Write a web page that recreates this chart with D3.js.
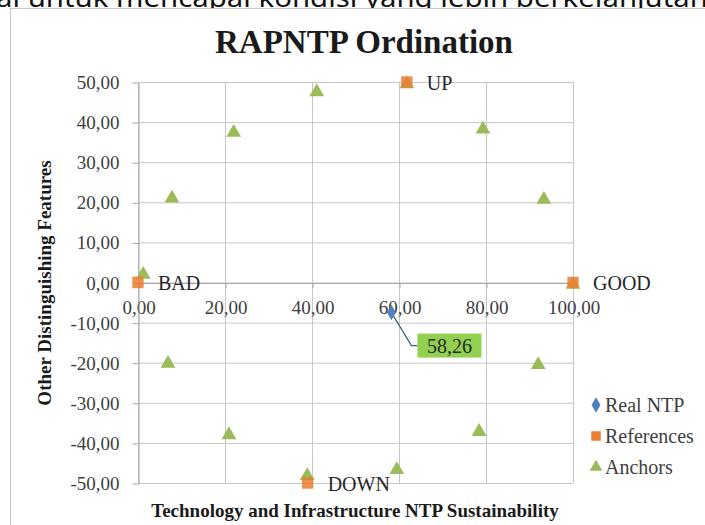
<!DOCTYPE html>
<html>
	<head>
		<title>RAPNTP Ordination</title>
		<meta charset="utf-8">
	</head>
	<body>
		<svg id="chart" width="705" height="525"></svg>
	</body>

	<script src="https://d3js.org/d3.v7.min.js"></script>
	<script>
		// chart data
		const xTicks = [0, 20, 40, 60, 80, 100];
		const yTicks = [-50, -40, -30, -20, -10, 0, 10, 20, 30, 40, 50];

		const realNTP = [{x: 58.26, y: -7.5}];
		const realLabel = "58,26";

		const references = [
			{name: "BAD", x: 0, y: 0},
			{name: "UP", x: 61.8, y: 50},
			{name: "GOOD", x: 100, y: 0},
			{name: "DOWN", x: 39, y: -50}
		];

		const anchorsX = [1.2, 7.8, 22, 41.1, 79.3, 93.3, 100, 92, 78.4, 59.5, 38.9, 20.9, 6.9, 61.8];
		const anchorsY = [2, 21, 37.4, 47.5, 38.2, 20.7, -0.5, -20.5, -37.2, -46.7, -48.2, -38, -20.2, 49.5];

		const legendNames = ["Real NTP", "References", "Anchors"];

		// colours
		const blue = "#4f81bd", orange = "#ed7d31", green = "#9bbb59";
		const serif = "'Liberation Serif', 'Times New Roman', serif";

		const svg = d3.select("#chart");

		// cut-off line of document text above the chart
		svg.append("text")
			.attr("x", -4)
			.attr("y", 7)
			.attr("textLength", 712)
			.attr("lengthAdjust", "spacingAndGlyphs")
			.style("font-family", "'Noto Sans', sans-serif")
			.style("font-size", "26px")
			.attr("fill", "#111")
			.text("ai untuk mencapai kondisi yang lebih berkelanjutan");

		// chart frame
		svg.append("rect")
			.attr("x", 10.5)
			.attr("y", 8.5)
			.attr("width", 710)
			.attr("height", 530)
			.attr("fill", "#fff")
			.attr("stroke", "#c8c8c8");

		const x = d3.scaleLinear().domain([0, 100]).range([138, 573]);
		const y = d3.scaleLinear().domain([-50, 50]).range([483, 82]);

		const loc = d3.formatLocale({decimal: ",", thousands: ".", grouping: [3], currency: ["", ""], minus: "-"});
		const fmt = loc.format(".2f");

		// gridlines
		svg.append("g")
			.selectAll("line")
			.data(xTicks)
			.enter().append("line")
				.attr("x1", d => x(d) + 0.5)
				.attr("x2", d => x(d) + 0.5)
				.attr("y1", y(50))
				.attr("y2", y(-50))
				.attr("stroke", "#c6c6c6");

		svg.append("g")
			.selectAll("line")
			.data(yTicks)
			.enter().append("line")
				.attr("x1", x(0))
				.attr("x2", x(100))
				.attr("y1", d => y(d) + 0.5)
				.attr("y2", d => y(d) + 0.5)
				.attr("stroke", "#c6c6c6");

		// axes
		svg.append("g")
			.attr("class", "axis")
			.attr("transform", `translate(0.5, ${y(0) + 0.5})`)
			.call(d3.axisBottom(x).tickValues(xTicks).tickFormat(fmt).tickSize(5).tickSizeOuter(0).tickPadding(13));

		svg.append("g")
			.attr("class", "axis")
			.attr("transform", `translate(${x(0) + 0.5}, 0.5)`)
			.call(d3.axisLeft(y).tickValues(yTicks).tickFormat(fmt).tickSize(6).tickSizeOuter(0).tickPadding(13));

		svg.selectAll(".axis").attr("font-family", serif);
		svg.selectAll(".axis .domain, .axis line").attr("stroke", "#a6a6a6");
		svg.selectAll(".axis text")
			.style("font-family", serif)
			.style("font-size", "19px")
			.attr("fill", "#404040");

		// title
		svg.append("text")
			.attr("x", 364)
			.attr("y", 53)
			.attr("text-anchor", "middle")
			.style("font-family", serif)
			.style("font-weight", "bold")
			.style("font-size", "33px")
			.attr("fill", "#1a1a1a")
			.text("RAPNTP Ordination");

		// axis titles
		svg.append("text")
			.attr("x", 355)
			.attr("y", 517)
			.attr("text-anchor", "middle")
			.style("font-family", serif)
			.style("font-weight", "bold")
			.style("font-size", "19px")
			.attr("fill", "#1a1a1a")
			.text("Technology and Infrastructure NTP Sustainability");

		svg.append("text")
			.attr("transform", "translate(51, 283) rotate(-90)")
			.attr("text-anchor", "middle")
			.style("font-family", serif)
			.style("font-weight", "bold")
			.style("font-size", "19px")
			.attr("fill", "#1a1a1a")
			.text("Other Distinguishing Features");

		const tri = d3.symbol().type(d3.symbolTriangle).size(95);
		const sq = d3.symbol().type(d3.symbolSquare).size(130);
		const dia = d3.symbol().type(d3.symbolDiamond).size(70);

		// anchors
		svg.append("g")
			.selectAll("path")
			.data(anchorsX.map((d, i) => ({x: d, y: anchorsY[i]})))
			.enter().append("path")
				.attr("d", tri)
				.attr("transform", d => `translate(${x(d.x)}, ${y(d.y)})`)
				.attr("fill", green);

		// references
		const ref = svg.append("g")
			.selectAll("g")
			.data(references)
			.enter().append("g")
				.attr("transform", d => `translate(${x(d.x)}, ${y(d.y)})`);

		ref.append("path")
			.attr("d", sq)
			.attr("fill", orange)
			.attr("fill-opacity", 0.85);

		ref.append("text")
			.attr("x", 20)
			.attr("dy", "0.38em")
			.style("font-family", serif)
			.style("font-size", "20px")
			.attr("fill", "#262626")
			.text(d => d.name);

		// real NTP point with callout
		const real = svg.append("g")
			.selectAll("g")
			.data(realNTP)
			.enter().append("g")
				.attr("transform", d => `translate(${x(d.x)}, ${y(d.y)})`);

		real.append("path")
			.attr("d", "M0,0L20,33L26,33")
			.attr("fill", "none")
			.attr("stroke", "#3b5a7a")
			.attr("stroke-width", 1.2);

		real.append("path")
			.attr("d", dia)
			.attr("fill", blue);

		real.append("rect")
			.attr("x", 26)
			.attr("y", 21)
			.attr("width", 64)
			.attr("height", 24)
			.attr("fill", "#92d050");

		real.append("text")
			.attr("x", 58)
			.attr("y", 33)
			.attr("dy", "0.36em")
			.attr("text-anchor", "middle")
			.style("font-family", serif)
			.style("font-size", "20px")
			.attr("fill", "#262626")
			.text(realLabel);

		// legend
		const legendSymbols = [dia, d3.symbol().type(d3.symbolSquare).size(90), d3.symbol().type(d3.symbolTriangle).size(70)];
		const legendColors = [blue, orange, green];

		const legend = svg.append("g")
			.selectAll("g")
			.data(legendNames)
			.enter().append("g")
				.attr("transform", (d, i) => `translate(596, ${405 + i * 31})`);

		legend.append("path")
			.attr("d", (d, i) => legendSymbols[i]())
			.attr("fill", (d, i) => legendColors[i]);

		legend.append("text")
			.attr("x", 9)
			.attr("dy", "0.36em")
			.style("font-family", serif)
			.style("font-size", "20px")
			.attr("fill", "#404040")
			.text(d => d);
	</script>

	<style>
		html, body
		{
			margin: 0;
			background: #fff;
		}
	</style>
</html>
